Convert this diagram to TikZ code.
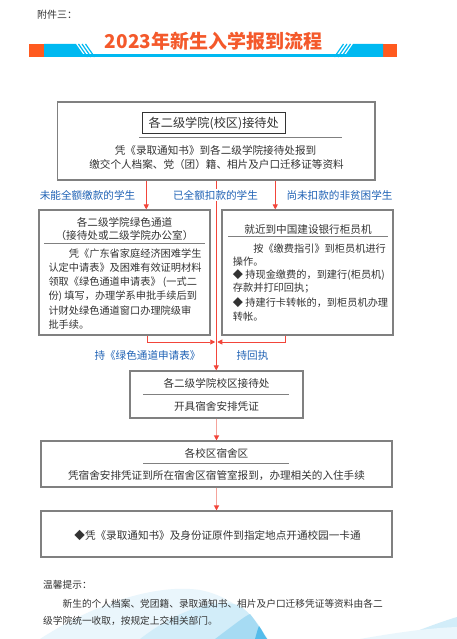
\documentclass[tikz,border=0pt]{standalone}
\usepackage{fontspec}
\setmainfont{Noto Sans CJK SC}
\usetikzlibrary{arrows.meta,calc}
\definecolor{boxgray}{HTML}{808080}
\definecolor{txt}{HTML}{333333}
\definecolor{redl}{HTML}{F2453A}
\definecolor{pinkl}{HTML}{F5A39B}
\definecolor{bluet}{HTML}{1F62B5}
\definecolor{banblue}{HTML}{00B9F1}
\definecolor{banor}{HTML}{FF5A1F}
\definecolor{titor}{HTML}{F4592B}
\definecolor{sw1}{HTML}{EAF6FC}
\definecolor{sw2}{HTML}{D2EDF9}
\definecolor{sw3}{HTML}{A6DBF3}
\definecolor{sw4}{HTML}{55BCEB}
\begin{document}
\begin{tikzpicture}[x=1pt,y=-1pt,
 box/.style={draw=boxgray,line width=1.1pt,inner sep=0pt},
 t/.style={font=\fontsize{10.6}{12}\selectfont,text=txt,inner sep=0pt},
 tb/.style={font=\fontsize{10.2}{12}\selectfont,text=txt,inner sep=0pt,anchor=west},
 lab/.style={font=\fontsize{10.6}{12}\selectfont,text=bluet,inner sep=1pt},
 sep/.style={draw=boxgray,line width=1pt},
 arr/.style={draw=redl,line width=0.9pt,-{Triangle[width=5pt,length=5pt,fill=redl]}},
 parr/.style={draw=pinkl,line width=1.2pt,-{Triangle[width=5pt,length=5pt,fill=redl,color=redl]}},
]
\useasboundingbox (0,0) rectangle (457,639);
\fill[white] (0,0) rectangle (457,639);

% bottom swooshes
\fill[sw1] (40,639) .. controls (100,600) and (160,584) .. (200,590) .. controls (235,597) and (255,620) .. (268,639) -- cycle;
\fill[sw2] (140,639) .. controls (175,612) and (212,598) .. (238,605) .. controls (252,613) and (261,628) .. (267,639) -- cycle;
\fill[sw3] (215,639) .. controls (235,624) and (245,616) .. (250,614) .. controls (257,623) and (262,632) .. (267,639) -- cycle;
\fill[sw4] (255,639) .. controls (257,632) and (258,628) .. (259,626) .. controls (262,630) and (264,635) .. (267,639) -- cycle;
\fill[sw2] (395,639) .. controls (420,630) and (440,622) .. (457,617) -- (457,639) -- cycle;
\fill[sw1] (360,639) .. controls (400,632) and (430,628) .. (457,627) -- (457,639) -- cycle;

% header
\node[t,anchor=west,font=\fontsize{10}{12}\selectfont] (att) at (37,15) {附件三：};
\fill[banor] (29,44) rectangle (44,57);
\fill[banor] (383,44) rectangle (397,57);
\fill[banblue] (44,44) -- (76,44) -- (85,57) -- (44,57) -- cycle;
\fill[banblue] (383,44) -- (353,44) -- (344,57) -- (383,57) -- cycle;
\foreach \d in {0,3.5,7}{
  \draw[banblue,line width=1.2pt] (78.5+\d,44) -- (87.5+\d,57);
  \draw[banblue,line width=1.2pt] (350.5-\d,44) -- (341.5-\d,57);
}
\fill[banblue] (44,54.5) rectangle (383,57);
\node[inner sep=0pt,text=titor,font=\fontsize{19}{22}\bfseries] (title) at (213.5,41.5) {2023年新生入学报到流程};

% boxes
\node[box,line width=1.4pt,minimum width=317.5pt,minimum height=78pt] (top) at (216.25,141) {};
\node[box,draw=txt,line width=1pt,minimum width=143.5pt,minimum height=21pt] (toptitle) at (213.75,123.5) {};
\node[inner sep=0pt,text=txt,font=\fontsize{12.2}{14}\selectfont] (toptitletext) at (213.75,123.5) {各二级学院(校区)接待处};
\draw[sep] (139,138) -- (342,138);
\node[t] (topl1) at (215.5,150) {凭《录取通知书》到各二级学院接待处报到};
\node[t] (topl2) at (216.5,164) {缴交个人档案、党（团）籍、相片及户口迁移证等资料};

\node[box,minimum width=171pt,minimum height=125pt] (leftbox) at (124.5,272.5) {};
\node[t] (lbt1) at (124.5,222) {各二级学院绿色通道};
\node[t] (lbt2) at (124.5,235) {（接待处或二级学院办公室）};
\draw[sep] (44,243) -- (205,243);
\node[tb] (lb1) at (48.3,253.5) {\hspace{2em}凭《广东省家庭经济困难学生};
\node[tb] (lb2) at (48.3,268) {认定中请表》及困难有效证明材料};
\node[tb] (lb3) at (48.3,282) {领取《绿色通道申请表》 (一式二};
\node[tb] (lb4) at (48.3,296.5) {份) 填写，办理学系申批手续后到};
\node[tb] (lb5) at (48.3,310.5) {计财处绿色通道窗口办理院级审};
\node[tb] (lb6) at (48.3,324.5) {批手续。};

\node[box,minimum width=171pt,minimum height=125pt] (rightbox) at (307.5,272.5) {};
\node[t] (rbt) at (308,229) {就近到中国建设银行柜员机};
\draw[sep] (228,236.5) -- (388,236.5);
\node[tb] (rb1) at (232.7,248.3) {\hspace{2em}按《缴费指引》到柜员机进行};
\node[tb] (rb2) at (232.7,261.5) {操作。};
\node[tb] (rb3) at (232.7,275) {◆ 持现金缴费的，到建行(柜员机)};
\node[tb] (rb4) at (232.7,288.5) {存款并打印回执；};
\node[tb] (rb5) at (232.7,302.5) {◆ 持建行卡转帐的，到柜员机办理};
\node[tb] (rb6) at (232.7,316.5) {转帐。};

\node[box,minimum width=173pt,minimum height=47pt] (box3) at (216.5,394.5) {};
\node[t] (b3t) at (216.5,383) {各二级学院校区接待处};
\draw[sep] (143,394) -- (289,394);
\node[t] (b3b) at (216.5,406.5) {开具宿舍安排凭证};

\node[box,minimum width=351pt,minimum height=46pt] (box4) at (216.5,464) {};
\node[t] (b4t) at (216.5,453) {各校区宿舍区};
\draw[sep] (143,463) -- (289,463);
\node[t] (b4b) at (216.5,476) {凭宿舍安排凭证到所在宿舍区宿管室报到，办理相关的入住手续};

\node[box,minimum width=351pt,minimum height=46pt] (box5) at (216.5,534) {};
\node[t] (b5t) at (217.5,535) {◆凭《录取通知书》及身份证原件到指定地点开通校园一卡通};

% connectors
\coordinate (mj) at (216.25,342);
\draw[arr] ([xshift=-70pt]top.south) -- ([xshift=-70pt]top.south |- leftbox.north);
\draw[arr] ([xshift=59pt]top.south) -- ([xshift=59pt]top.south |- rightbox.north);
\draw[arr] (top.south) -- (top.south |- box3.north);
\draw[arr] ([xshift=22.5pt]leftbox.south) |- ([xshift=-1pt]mj);
\draw[arr] ([xshift=-22.5pt]rightbox.south) |- ([xshift=1pt]mj);
\draw[parr] (box3.south) -- (box4.north);
\draw[parr] (box4.south) -- (box5.north);

% labels
\node[lab] (l1) at (87.5,195) {未能全额缴款的学生};
\node[lab,fill=white] (l2) at (215.5,195) {已全额扣款的学生};
\node[lab] (l3) at (339.5,195) {尚未扣款的非贫困学生};
\node[lab] (l4) at (147.5,355) {持《绿色通道申请表》};
\node[lab] (l5) at (252.5,355) {持回执};

% footer
\node[t,anchor=west,font=\fontsize{9.7}{12}\selectfont] (tip) at (43,585) {温馨提示：};
\node[t,anchor=west,font=\fontsize{9.7}{12}\selectfont] (tip1) at (43,604) {\hspace{2em}新生的个人档案、党团籍、录取通知书、相片及户口迁移凭证等资料由各二};
\node[t,anchor=west,font=\fontsize{9.7}{12}\selectfont] (tip2) at (43,621) {级学院统一收取，按规定上交相关部门。};
\end{tikzpicture}
\end{document}
